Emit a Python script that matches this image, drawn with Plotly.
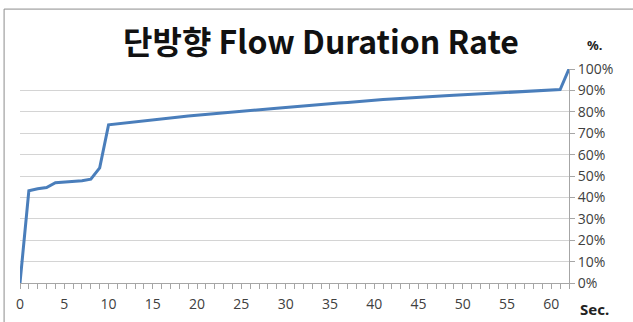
import plotly.graph_objects as go

seconds = list(range(0, 63))
rate = [0, 43.1, 44.0, 44.6, 46.9, 47.2, 47.5, 47.8, 48.5, 53.8,
        73.9, 74.4, 74.9, 75.4, 75.9, 76.4, 76.8, 77.2, 77.6, 78.0,
        78.4, 78.8, 79.2, 79.5, 79.9, 80.3, 80.6, 81.0, 81.3, 81.7,
        82.0, 82.4, 82.7, 83.1, 83.4, 83.8, 84.1, 84.4, 84.8, 85.1,
        85.4, 85.7, 86.0, 86.3, 86.6, 86.8, 87.1, 87.3, 87.5, 87.7,
        87.9, 88.1, 88.3, 88.6, 88.8, 89.0, 89.3, 89.5, 89.7, 89.9,
        90.1, 90.4, 100]
y_ticks = [0, 10, 20, 30, 40, 50, 60, 70, 80, 90, 100]
y_tick_labels = [f"{v}%" for v in y_ticks]
x_ticks = [0, 5, 10, 15, 20, 25, 30, 35, 40, 45, 50, 55, 60]

title_text = "단방향 Flow Duration Rate"
y_unit = "%."
x_unit = "Sec."

fig = go.Figure()
fig.add_trace(go.Scatter(x=seconds, y=rate, mode="lines",
                         line=dict(color="#4a7ebb", width=3),
                         hoverinfo="x+y"))

tick_font = dict(family="Open Sans, sans-serif", size=14, color="#404040")

fig.update_layout(
    width=633, height=322,
    margin=dict(l=20, r=64, t=69, b=39),
    paper_bgcolor="white", plot_bgcolor="white",
    showlegend=False,
    xaxis=dict(range=[0, 62], tickvals=x_ticks, ticks="outside", ticklen=5,
               tickcolor="#a6a6a6", showline=True, linecolor="#a6a6a6",
               showgrid=False, zeroline=False, tickfont=tick_font,
               automargin=False, ticklabelstandoff=3,
               minor=dict(dtick=1, tick0=0, ticks="outside", ticklen=5,
                          tickcolor="#a6a6a6", showgrid=False)),
    yaxis=dict(range=[0, 100], tickvals=y_ticks, ticktext=y_tick_labels,
               side="right", ticks="outside", ticklen=5, tickcolor="#a6a6a6",
               showline=True, linecolor="#a6a6a6", showgrid=True,
               gridcolor="#d4d4d4", gridwidth=1, zeroline=False,
               tickfont=tick_font, automargin=False),
    shapes=[dict(type="rect", xref="paper", yref="paper",
                 x0=-0.029, x1=1.13, y0=-0.25, y1=1.28,
                 line=dict(color="#8c8c8c", width=1))],
    annotations=[
        dict(text="<b>" + title_text + "</b>", xref="paper", yref="paper",
             x=0.548, y=1.135, xanchor="center", yanchor="middle",
             showarrow=False,
             font=dict(family="Noto Sans CJK KR", size=32, color="#111111")),
        dict(text="<b>" + y_unit + "</b>", xref="paper", yref="paper",
             x=1.029, y=1.112, xanchor="left", yanchor="middle",
             showarrow=False,
             font=dict(family="Noto Sans", size=13, color="#222222")),
        dict(text="<b>" + x_unit + "</b>", xref="paper", yref="paper",
             x=1.016, y=-0.122, xanchor="left", yanchor="middle",
             showarrow=False,
             font=dict(family="Noto Sans", size=15, color="#222222")),
    ],
)

fig.write_html("out.html", config={"displayModeBar": False},
               post_script="document.body.style.margin='0';document.body.style.overflow='hidden';")
